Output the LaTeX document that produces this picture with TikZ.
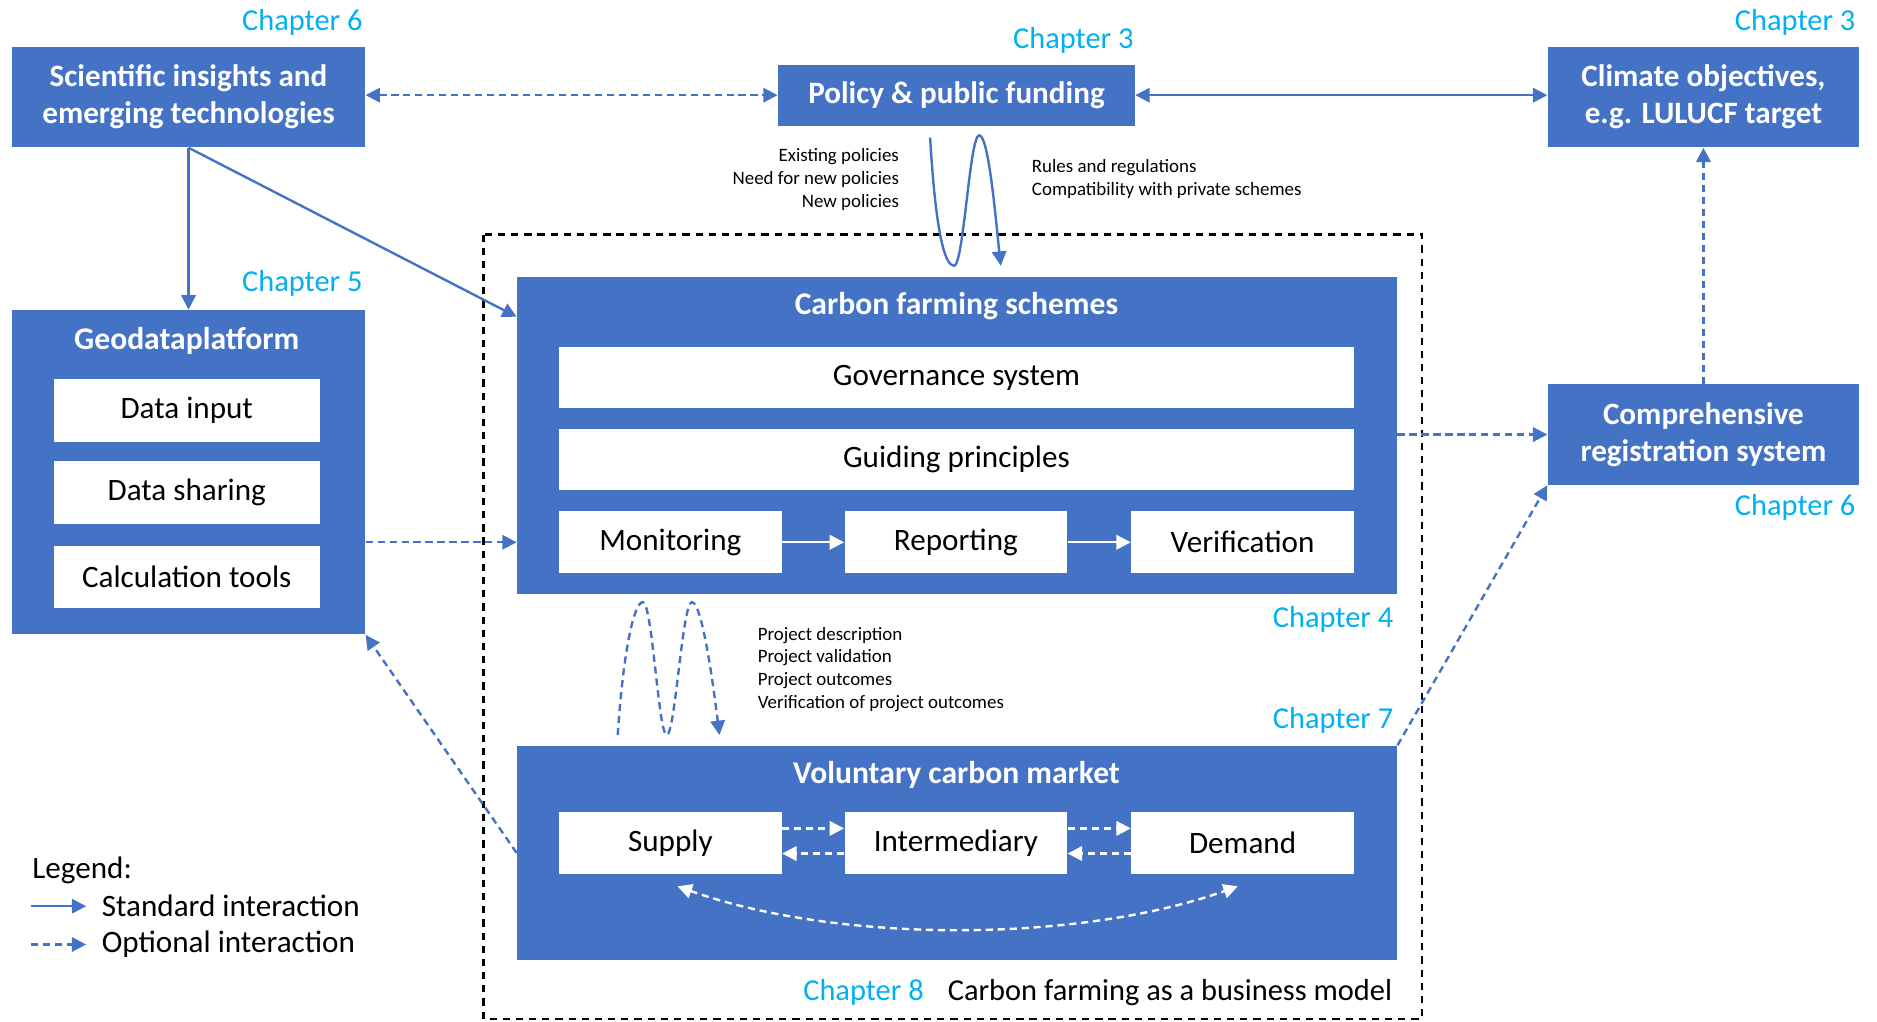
\documentclass[tikz,border=0pt]{standalone}
\usepackage{fontspec}
\setmainfont{Carlito}
\usetikzlibrary{arrows.meta}
\definecolor{ublue}{HTML}{4472C4}
\definecolor{chapcyan}{HTML}{00B0F0}

\begin{document}
\begin{tikzpicture}[x = 0.5pt, y = -0.5pt,
        >={Triangle[length=6pt,width=6pt]},
        bluebox/.style = {fill = ublue, draw = none, text = white, align = center, font = \fontsize{13}{15.5}\selectfont\bfseries},
        whitebox/.style = {fill = white, draw = none, font = \fontsize{13}{15}\selectfont},
        boxtitle/.style = {text = white, font = \fontsize{13.2}{15}\selectfont\bfseries},
        chap/.style = {text = chapcyan, font = \fontsize{12.7}{15}\selectfont},
        note/.style = {font = \fontsize{7.9}{9.5}\selectfont},
        std/.style = {line width = 1pt, ublue, ->},
        opt/.style = {line width = 1pt, ublue, dash pattern = on 3pt off 2pt, ->},
        inner/.style = {line width = 1pt, white, ->}]
        \useasboundingbox (0,0) rectangle (1568,853);

        % outer frame
        \draw[line width = 1pt, dash pattern = on 3pt off 2.5pt] (404,196) rectangle (1188,851);

        % top row
        \node[bluebox, minimum width = 147.5pt, minimum height = 42pt] (sci) at (157.5,81) {Scientific insights and\\emerging technologies};
        \node[bluebox, minimum width = 149pt, minimum height = 25.5pt] (pol) at (799,79.5) {Policy \& public funding};
        \node[bluebox, minimum width = 130pt, minimum height = 42pt] (clim) at (1423,81) {Climate objectives,\\e.g. LULUCF target};
        \node[bluebox, minimum width = 130pt, minimum height = 42pt] (reg) at (1423,363) {Comprehensive\\registration system};

        % geodata
        \node[bluebox, minimum width = 147.5pt, minimum height = 135.5pt] (geo) at (157.5,394.5) {};
        \node[boxtitle] (geot) at (156,285) {Geodataplatform};
        \node[whitebox, minimum width = 111pt, minimum height = 26pt] (din) at (156,343) {Data input};
        \node[whitebox, minimum width = 111pt, minimum height = 26pt] (dsh) at (156,411.5) {Data sharing};
        \node[whitebox, minimum width = 111pt, minimum height = 26pt] (calc) at (156,482) {Calculation tools};

        % carbon farming schemes
        \node[bluebox, minimum width = 367.5pt, minimum height = 132.5pt] (cfs) at (799.5,363.5) {};
        \node[boxtitle] (cfst) at (799,256) {Carbon farming schemes};
        \node[whitebox, minimum width = 332pt, minimum height = 25.5pt] (gov) at (799,315.5) {Governance system};
        \node[whitebox, minimum width = 332pt, minimum height = 25.5pt] (gui) at (799,383.5) {Guiding principles};
        \node[whitebox, minimum width = 93pt, minimum height = 26pt] (mon) at (560,453) {Monitoring};
        \node[whitebox, minimum width = 93pt, minimum height = 26pt] (rep) at (798.5,453) {Reporting};
        \node[whitebox, minimum width = 93pt, minimum height = 26pt] (ver) at (1038,453) {Verification};

        % voluntary carbon market
        \node[bluebox, minimum width = 367.5pt, minimum height = 89.5pt] (vcm) at (799.5,712.5) {};
        \node[boxtitle] (vcmt) at (799,647) {Voluntary carbon market};
        \node[whitebox, minimum width = 93pt, minimum height = 26pt] (sup) at (560,704) {Supply};
        \node[whitebox, minimum width = 93pt, minimum height = 26pt] (int) at (798.5,704) {Intermediary};
        \node[whitebox, minimum width = 93pt, minimum height = 26pt] (dem) at (1038,704) {Demand};

        % chapters
        \node[chap, anchor = east] (ch6a) at (310,19) {Chapter 6};
        \node[chap, anchor = east] (ch3a) at (954,34) {Chapter 3};
        \node[chap, anchor = east] (ch3b) at (1557,19) {Chapter 3};
        \node[chap, anchor = east] (ch5) at (310,237) {Chapter 5};
        \node[chap, anchor = east] (ch4) at (1171,517) {Chapter 4};
        \node[chap, anchor = east] (ch7) at (1171,602) {Chapter 7};
        \node[chap, anchor = east] (ch6b) at (1557,424) {Chapter 6};
        \node[chap, anchor = west] (ch8) at (664,829) {Chapter 8};
        \node[anchor = east, font = \fontsize{12.7}{15}\selectfont] (bm) at (1170,829) {Carbon farming as a business model};

        % notes
        \node[note, anchor = east, align = right] (polnote) at (758,150) {Existing policies\\Need for new policies\\New policies};
        \node[note, anchor = west, align = left] (cfsnote) at (855,149.5) {Rules and regulations\\Compatibility with private schemes};
        \node[note, anchor = west, align = left] (vcmnote) at (626,559) {Project description\\Project validation\\Project outcomes\\Verification of project outcomes};

        % connections
        \draw[opt, <->] (sci.east |- pol.west) -- (pol.west);
        \draw[std, <->] (pol.east) -- (clim.west |- pol.east);
        \draw[std] (sci.south) -- (geo.north);
        \draw[std] (sci.south) -- ([yshift=-17pt]cfs.north west);
        \draw[opt] (geo.east |- mon) -- (cfs.west |- mon);
        \draw[opt] (cfs.east |- reg) -- (reg.west);
        \draw[opt] (reg.north) -- (clim.south);
        \draw[opt] (vcm.north east) -- (reg.south west);
        \draw[opt] (vcm.west) -- (geo.south east);

        % waves
        \coordinate (wa) at (777,115);
        \coordinate (wb) at (836,222);
        \draw[std] (wa) .. controls (782,200) and (790,222) .. (797,222)
            .. controls (805,222) and (810,113) .. (818,113)
            .. controls (826,113) and (832,185) .. (wb);
        \coordinate (va) at (516,614);
        \coordinate (vb) at (601,614);
        \draw[opt] (va) .. controls (521,540) and (530,503) .. (537,503)
            .. controls (545,503) and (550,614) .. (557,614)
            .. controls (564,614) and (570,503) .. (578,503)
            .. controls (586,503) and (595,565) .. (vb);

        % inside boxes
        \draw[inner] (mon.east) -- (rep.west);
        \draw[inner] (rep.east) -- (ver.west);
        \draw[inner, dash pattern = on 3pt off 2pt] ([yshift=6pt]sup.east) -- ([yshift=6pt]int.west);
        \draw[inner, dash pattern = on 3pt off 2pt] ([yshift=-4.5pt]int.west) -- ([yshift=-4.5pt]sup.east);
        \draw[inner, dash pattern = on 3pt off 2pt] ([yshift=6pt]int.east) -- ([yshift=6pt]dem.west);
        \draw[inner, dash pattern = on 3pt off 2pt] ([yshift=-4.5pt]dem.west) -- ([yshift=-4.5pt]int.east);
        \draw[inner, dash pattern = on 3pt off 2pt, <->] ([xshift=3pt,yshift=-5pt]sup.south) .. controls (700,788) and (900,788) .. ([xshift=-2pt,yshift=-5pt]dem.south);

        % legend
        \node[anchor = west, font = \fontsize{13}{15}\selectfont] (leg) at (20,727) {Legend:};
        \coordinate (la) at (26,757);
        \coordinate (lb) at (72,757);
        \coordinate (lc) at (26,789);
        \coordinate (ld) at (72,789);
        \draw[std] (la) -- (lb);
        \draw[opt] (lc) -- (ld);
        \node[anchor = west, font = \fontsize{13}{15}\selectfont] (lstd) at (78,757) {Standard interaction};
        \node[anchor = west, font = \fontsize{13}{15}\selectfont] (lopt) at (78,789) {Optional interaction};
    \end{tikzpicture}
\end{document}
